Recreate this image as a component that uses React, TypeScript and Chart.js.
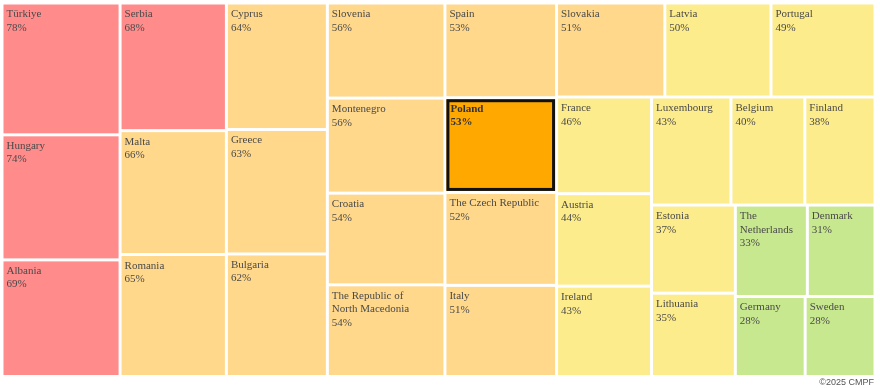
import React, { useEffect, useRef } from "react";
import { Chart, registerables } from "chart.js";

Chart.register(...registerables);

const countries: string[] = [
  "Türkiye", "Hungary", "Albania", "Serbia", "Malta", "Romania", "Cyprus", "Greece", "Bulgaria",
  "Slovenia", "Montenegro", "Croatia", "The Republic of North Macedonia",
  "Spain", "Poland", "The Czech Republic", "Italy",
  "Slovakia", "Latvia", "Portugal", "France", "Austria", "Ireland",
  "Luxembourg", "Belgium", "Finland", "Estonia", "Lithuania",
  "The Netherlands", "Denmark", "Germany", "Sweden",
];
const values: number[] = [
  78, 74, 69, 68, 66, 65, 64, 63, 62,
  56, 56, 54, 54,
  53, 53, 52, 51,
  51, 50, 49, 46, 44, 43,
  43, 40, 38, 37, 35,
  33, 31, 28, 28,
];
const highlighted = "Poland";
const bandLimits: number[] = [33, 50, 66, 100];
const bandColors: string[] = ["#c8e890", "#fdec8c", "#ffd88c", "#ff8b8b"];
const highlightColor = "#ffa800";
const creditText = "©2025 CMPF";

type R = { x: number; y: number; w: number; h: number; i: number };

function worst(areas: number[], side: number): number {
  const s = areas.reduce((a, b) => a + b, 0);
  let m = 0;
  for (const r of areas) {
    m = Math.max(m, (side * side * r) / (s * s), (s * s) / (side * side * r));
  }
  return m;
}

function squarify(vals: number[], W: number, H: number): R[] {
  const total = vals.reduce((a, b) => a + b, 0);
  const areas = vals.map((v) => (v * W * H) / total);
  const out: R[] = [];
  let x = 0, y = 0, w = W, h = H;
  let idx = 0;
  while (idx < areas.length) {
    const side = Math.min(w, h);
    const row: number[] = [areas[idx]];
    let j = idx + 1;
    while (j < areas.length && worst([...row, areas[j]], side) <= worst(row, side)) {
      row.push(areas[j]);
      j++;
    }
    const s = row.reduce((a, b) => a + b, 0);
    if (w >= h) {
      const cw = s / h;
      let cy = y;
      row.forEach((a, k) => {
        const ch = a / cw;
        out.push({ x, y: cy, w: cw, h: ch, i: idx + k });
        cy += ch;
      });
      x += cw;
      w -= cw;
    } else {
      const rh = s / w;
      let cx = x;
      row.forEach((a, k) => {
        const rw = a / rh;
        out.push({ x: cx, y, w: rw, h: rh, i: idx + k });
        cx += rw;
      });
      y += rh;
      h -= rh;
    }
    idx = j;
  }
  return out;
}

function colorFor(v: number, name: string): string {
  if (name === highlighted) return highlightColor;
  for (let k = 0; k < bandLimits.length; k++) if (v <= bandLimits[k]) return bandColors[k];
  return bandColors[bandColors.length - 1];
}

function wrap(ctx: CanvasRenderingContext2D, text: string, maxW: number): string[] {
  const words = text.split(" ");
  const lines: string[] = [];
  let cur = "";
  for (const wd of words) {
    const t = cur ? cur + " " + wd : wd;
    if (cur && ctx.measureText(t).width > maxW) {
      lines.push(cur);
      cur = wd;
    } else cur = t;
  }
  if (cur) lines.push(cur);
  return lines;
}

const treemapPlugin = {
  id: "treemapCells",
  afterDraw(chart: any) {
    const ctx: CanvasRenderingContext2D = chart.ctx;
    const xs = chart.scales.x;
    const ys = chart.scales.y;
    const W = xs.right - xs.left;
    const H = ys.bottom - ys.top;
    const rects = squarify(values, W, H);
    const gap = 1.5;
    ctx.save();
    for (const r of rects) {
      const x0 = xs.getPixelForValue(r.x / W);
      const x1 = xs.getPixelForValue((r.x + r.w) / W);
      const y0 = ys.getPixelForValue(r.y / H);
      const y1 = ys.getPixelForValue((r.y + r.h) / H);
      const fx = x0 + gap, fy = y0 + gap, fw = x1 - x0 - 2 * gap, fh = y1 - y0 - 2 * gap;
      const name = countries[r.i];
      const v = values[r.i];
      ctx.fillStyle = colorFor(v, name);
      ctx.fillRect(fx, fy, fw, fh);
      const isHi = name === highlighted;
      if (isHi) {
        ctx.strokeStyle = "#111";
        ctx.lineWidth = 3;
        ctx.strokeRect(fx + 1.5, fy + 1.5, fw - 3, fh - 3);
      }
      ctx.font = (isHi ? "bold " : "") + "11px 'Liberation Serif', 'DejaVu Serif', serif";
      ctx.fillStyle = isHi ? "#333" : "#4a4a4a";
      ctx.textBaseline = "alphabetic";
      ctx.textAlign = "left";
      const lines = [...wrap(ctx, name, fw - 16), v + "%"];
      lines.forEach((ln, k) => {
        ctx.fillText(ln, fx + (isHi ? 4 : 3), fy + 12.5 + k * 13.5);
      });
    }
    ctx.font = "9px 'Liberation Sans', Arial, sans-serif";
    ctx.fillStyle = "#555";
    ctx.textAlign = "right";
    ctx.textBaseline = "alphabetic";
    ctx.fillText(creditText, chart.width - 6, chart.height - 3);
    ctx.restore();
  },
};

export default function App() {
  const ref = useRef<HTMLCanvasElement | null>(null);
  useEffect(() => {
    document.body.style.margin = "0";
    if (!ref.current) return;
    const chart = new Chart(ref.current, {
      type: "scatter",
      data: { datasets: [{ data: [], pointRadius: 0 }] },
      options: {
        animation: false,
        responsive: true,
        maintainAspectRatio: false,
        layout: { padding: { left: 2, top: 3, right: 5, bottom: 11.5 } },
        scales: {
          x: { type: "linear", display: false, min: 0, max: 1 },
          y: { type: "linear", display: false, min: 0, max: 1, reverse: true },
        },
        plugins: { legend: { display: false }, tooltip: { enabled: false } },
        events: [],
      },
      plugins: [treemapPlugin],
    });
    return () => chart.destroy();
  }, []);
  return (
    <div style={{ width: 880, height: 388, position: "relative", background: "#fff" }}>
      <canvas ref={ref} />
    </div>
  );
}
